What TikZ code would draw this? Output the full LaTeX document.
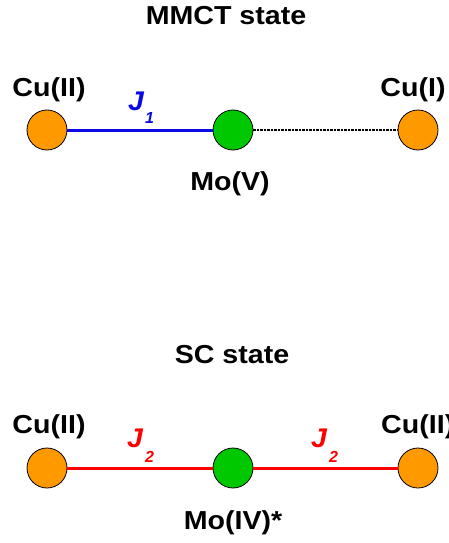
\documentclass[tikz,border=0pt]{standalone}
\usepackage{fontspec}
\setmainfont{Liberation Sans}
\definecolor{cuorange}{HTML}{FF9900}
\definecolor{mogreen}{HTML}{00C800}
\definecolor{jblue}{HTML}{0A0AE6}
\definecolor{jred}{HTML}{FF0000}
\begin{document}
\begin{tikzpicture}[x=1pt,y=-1pt,
  atom/.style={circle,draw=black,line width=0.8pt,minimum size=40pt,inner sep=0pt},
  cu/.style={atom,fill=cuorange},
  mo/.style={atom,fill=mogreen},
  lbl/.style={font=\fontsize{26}{30}\selectfont\bfseries,inner sep=0pt,anchor=base,xscale=1.1},
  jlbl/.style={font=\fontsize{27}{30}\selectfont\bfseries\itshape,inner sep=0pt,anchor=base west,xscale=1.05},
  jsub/.style={font=\fontsize{16}{18}\selectfont\bfseries\itshape,inner sep=0pt,anchor=base west},
  bond/.style={line width=3pt}]
\useasboundingbox (0,0) rectangle (449,543);
% MMCT state
\node[lbl] (t1) at (226,25) {MMCT state};
\node[cu] (a1) at (47,130) {};
\node[mo] (b1) at (233,130) {};
\node[cu] (c1) at (418,130) {};
\draw[bond,jblue] (a1) -- (b1);
\draw[line width=2.2pt,black,dash pattern=on 2.5pt off 1pt] (b1) -- (c1);
\node[lbl] (la1) at (49,96) {Cu(II)};
\node[lbl] (lc1) at (413,96) {Cu(I)};
\node[lbl] (lb1) at (230,190) {Mo(V)};
\node[jlbl,jblue] (j1) at (128,110) {J};
\node[jsub,jblue] (s1) at (145,123) {1};
% SC state
\node[lbl] (t2) at (232,363) {SC state};
\node[cu] (a2) at (47,468) {};
\node[mo] (b2) at (233,468) {};
\node[cu] (c2) at (418,468) {};
\draw[bond,jred] (a2) -- (b2);
\draw[bond,jred] (b2) -- (c2);
\node[lbl] (la2) at (49,433) {Cu(II)};
\node[lbl,anchor=base west] (lc2) at (381,433) {Cu(II)};
\node[lbl] (lb2) at (233,529) {Mo(IV)*};
\node[jlbl,jred] (j2a) at (127,447) {J};
\node[jsub,jred] (s2a) at (145,462) {2};
\node[jlbl,jred] (j2b) at (311,447) {J};
\node[jsub,jred] (s2b) at (329,462) {2};
\end{tikzpicture}
\end{document}
